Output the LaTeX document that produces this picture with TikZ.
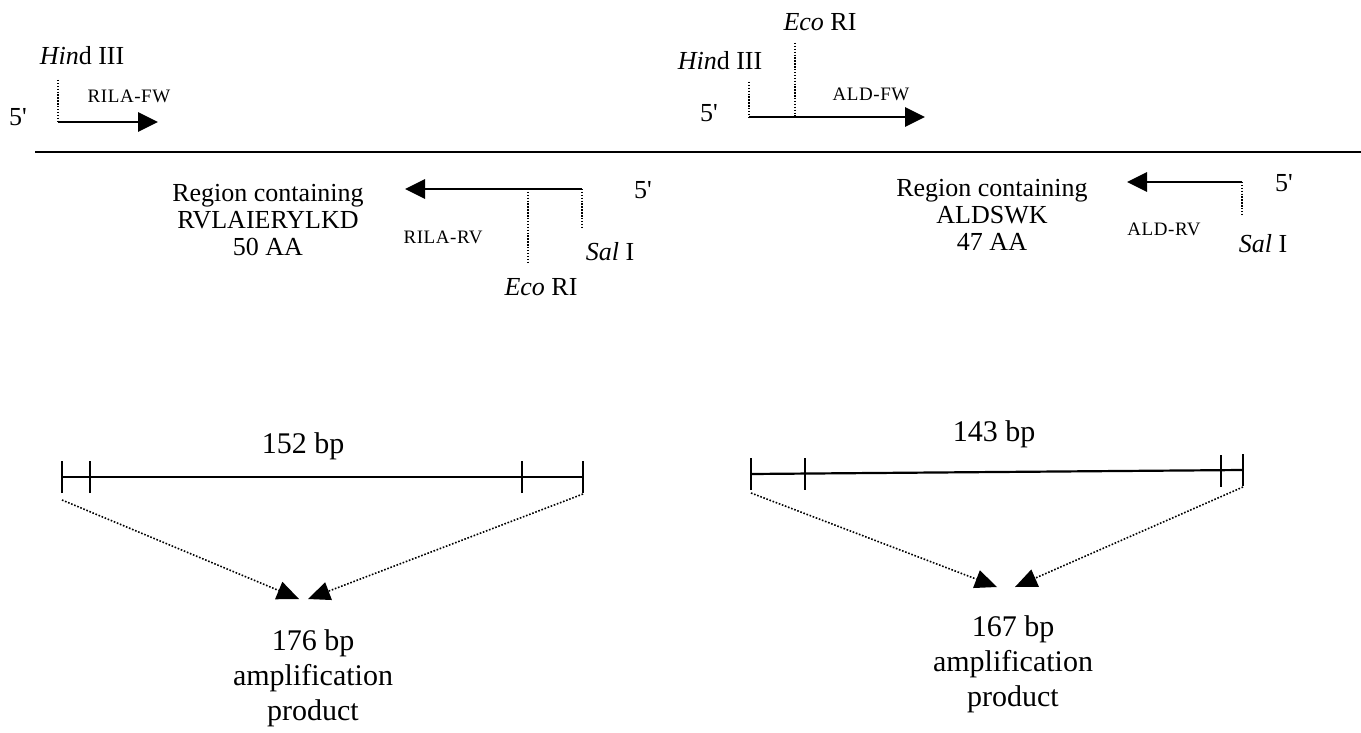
\documentclass[tikz,border=0pt]{standalone}
\usepackage{fontspec}
\setmainfont{Liberation Serif}
\newfontfamily\labfont[LetterSpace=3]{Liberation Serif}
\usetikzlibrary{arrows.meta}
\tikzset{
  big/.style={font=\fontsize{26}{27}\selectfont, inner sep=0pt, align=center},
  bot/.style={font=\fontsize{30}{35}\selectfont, inner sep=0pt, align=center},
  lab/.style={font=\labfont\fontsize{19}{20}\selectfont, inner sep=0pt},
  dna/.style={line width=2.2pt},
  prim/.style={line width=2.8pt, -{Triangle[length=20pt, width=19pt]}},
  site/.style={line width=1.4pt, dash pattern=on 1.4pt off 1.5pt},
  bar/.style={line width=2.2pt},
  amp/.style={line width=1.6pt, dash pattern=on 1.6pt off 1.7pt, -{Triangle[length=22pt, width=19pt, line width=0pt]}}
}
\newcommand{\fiveprime}{5\textquotesingle}
\begin{document}
\begin{tikzpicture}[x=1pt, y=-1pt]
\useasboundingbox (0,0) rectangle (1361,733);

% ---------- top strand ----------
\coordinate (L0) at (35,152);
\coordinate (L1) at (1361,152);
\draw[dna] (L0) -- (L1);

% left forward primer
\coordinate (h1t) at (58,80);
\coordinate (f1s) at (58,122);
\coordinate (f1e) at (158,122);
\draw[site] (h1t) -- (f1s);
\draw[prim] (f1s) -- (f1e);
\node[big, anchor=base] (hind1) at (82,65) {\textit{Hin}d III};
\node[lab, anchor=base] (rilafw) at (129,103) {RILA-FW};
\node[big, anchor=base] (p5a) at (18,126) {\fiveprime};

% middle forward primer
\coordinate (h2t) at (749,82);
\coordinate (f2s) at (749,117);
\coordinate (e2t) at (795,43);
\coordinate (e2b) at (795,117);
\coordinate (f2e) at (925,117);
\draw[site] (h2t) -- (f2s);
\draw[site] (e2t) -- (e2b);
\draw[prim] (f2s) -- (f2e);
\node[big, anchor=base] (eco2) at (820,31) {\textit{Eco} RI};
\node[big, anchor=base] (hind2) at (720,70) {\textit{Hin}d III};
\node[big, anchor=base] (p5b) at (709,122) {\fiveprime};
\node[lab, anchor=base] (aldfw) at (871,101) {ALD-FW};

% left reverse primer
\coordinate (r1s) at (582,189);
\coordinate (r1e) at (405,189);
\coordinate (s1b) at (582,227);
\coordinate (e1t) at (528,189);
\coordinate (e1b) at (528,263);
\draw[site] (r1s) -- (s1b);
\draw[site] (e1t) -- (e1b);
\draw[prim] (r1s) -- (r1e);
\node[big, anchor=base] (p5c) at (643,198) {\fiveprime};
\node[big] (reg1) at (268,220) {Region containing\\RVLAIERYLKD\\50 AA};
\node[lab, anchor=base] (rilarv) at (443,243) {RILA-RV};
\node[big, anchor=base] (sal1) at (610,260) {\textit{Sal} I};
\node[big, anchor=base] (eco1) at (541,295) {\textit{Eco} RI};

% right reverse primer
\coordinate (r2s) at (1242,182);
\coordinate (r2e) at (1127,182);
\coordinate (s2b) at (1242,215);
\draw[site] (r2s) -- (s2b);
\draw[prim] (r2s) -- (r2e);
\node[big, anchor=base] (p5d) at (1284,192) {\fiveprime};
\node[big] (reg2) at (992,215) {Region containing\\ALDSWK\\47 AA};
\node[lab, anchor=base] (aldrv) at (1164,235) {ALD-RV};
\node[big, anchor=base] (sal2) at (1263,252) {\textit{Sal} I};

% ---------- left amplification ----------
\coordinate (a1) at (62,477);
\coordinate (a2) at (90,477);
\coordinate (a3) at (522,477);
\coordinate (a4) at (583,477);
\draw[bar] (a1) -- (a4);
\foreach \c in {a1,a2,a3,a4}{
  \draw[bar] ([yshift=-16pt]\c) -- ([yshift=16pt]\c);
}
\node[bot, anchor=base] (bp152) at (303,453) {152 bp};
\coordinate (d1s) at (62,500);
\coordinate (d1t) at (299,599);
\coordinate (d2s) at (583,494);
\coordinate (d2t) at (308,599);
\draw[amp] (d1s) -- (d1t);
\draw[amp] (d2s) -- (d2t);
\node[bot] (prod1) at (313,678) {176 bp\\amplification\\product};

% ---------- right amplification ----------
\coordinate (b1) at (751,474);
\coordinate (b2) at (805,473.5);
\coordinate (b3) at (1221,470.5);
\coordinate (b4) at (1243,470);
\draw[bar] (b1) -- (b4);
\foreach \c in {b1,b2,b3,b4}{
  \draw[bar] ([yshift=-16pt]\c) -- ([yshift=16pt]\c);
}
\node[bot, anchor=base] (bp143) at (994,441) {143 bp};
\coordinate (d3s) at (751,493);
\coordinate (d3t) at (997,587);
\coordinate (d4s) at (1243,487);
\coordinate (d4t) at (1015,587);
\draw[amp] (d3s) -- (d3t);
\draw[amp] (d4s) -- (d4t);
\node[bot] (prod2) at (1013,664) {167 bp\\amplification\\product};
\end{tikzpicture}
\end{document}
